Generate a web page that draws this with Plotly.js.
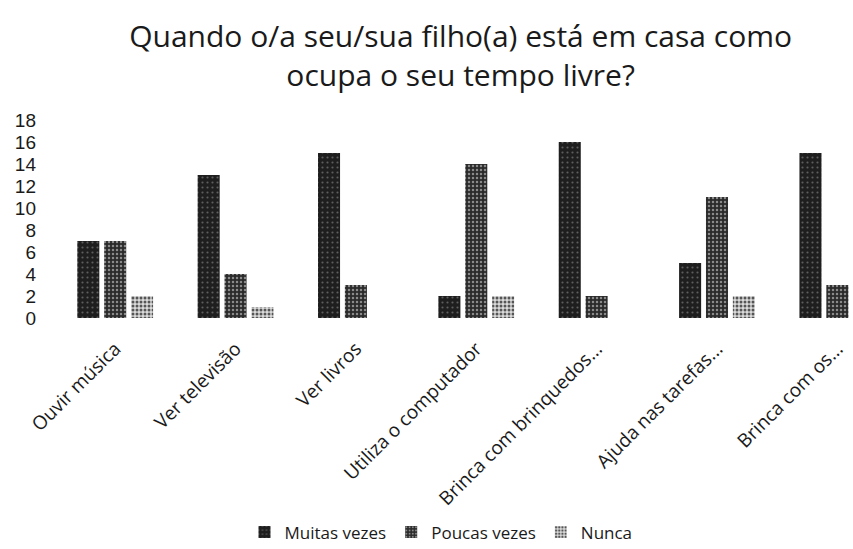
<!DOCTYPE html>
<html>
<head>
<meta charset="utf-8">
<script src="https://cdn.plot.ly/plotly-3.0.1.min.js"></script>
<style>html,body{margin:0;padding:0;background:#fff;}#chart{width:853px;height:549px;}</style>
</head>
<body>
<div id="chart"></div>
<script>
const categories = ["Ouvir música", "Ver televisão", "Ver livros", "Utiliza o computador", "Brinca com brinquedos...", "Ajuda nas tarefas...", "Brinca com os..."];
const muitasVezes = [7, 13, 15, 2, 16, 5, 15];
const poucasVezes = [7, 4, 3, 14, 2, 11, 3];
const nunca = [2, 1, 0, 2, 0, 2, 0];
const seriesNames = ["Muitas vezes", "Poucas vezes", "Nunca"];
const yTicks = [0, 2, 4, 6, 8, 10, 12, 14, 16, 18];

const traces = [
  {type: 'bar', name: seriesNames[0], x: categories, y: muitasVezes,
   marker: {color: '#232323', pattern: {shape: '.', fgcolor: '#5e5e5e', bgcolor: '#1e1e1e', size: 5, solidity: 0.15}}},
  {type: 'bar', name: seriesNames[1], x: categories, y: poucasVezes,
   marker: {color: '#3a3a3a', pattern: {shape: '.', fgcolor: '#8a8a8a', bgcolor: '#2a2a2a', size: 4, solidity: 0.3}}},
  {type: 'bar', name: seriesNames[2], x: categories, y: nunca,
   marker: {color: '#b5b5b5', pattern: {shape: '.', fgcolor: '#555555', bgcolor: '#dadada', size: 4, solidity: 0.45}}}
];

const layout = {
  width: 853, height: 549,
  paper_bgcolor: '#fff', plot_bgcolor: '#fff',
  margin: {l: 55, r: 0, t: 120, b: 231},
  title: {text: 'Quando o/a seu/sua filho(a) está em casa como<br>ocupa o seu tempo livre?',
          font: {family: 'Open Sans, Noto Sans, sans-serif', size: 30, color: '#1a1a1a'},
          x: 0.54, xanchor: 'center', y: 0.915, yanchor: 'top'},
  barmode: 'group', bargap: 0.33, bargroupgap: 0.18,
  xaxis: {range: [-0.5, 6.13], tickangle: -45, showgrid: false, showline: false, zeroline: false, ticks: '',
          ticklabelstandoff: 15, ticklabelshift: 0,
          tickfont: {family: 'Open Sans, sans-serif', size: 19, color: '#1a1a1a'}},
  yaxis: {range: [0, 18], tickvals: yTicks, showgrid: false, showline: false, zeroline: false, ticks: '',
          ticklabelstandoff: 18,
          tickfont: {family: 'Liberation Sans, sans-serif', size: 19, color: '#1a1a1a'}},
  showlegend: true,
  legend: {orientation: 'h', x: 0.517, xref: 'container', xanchor: 'center', y: 0.03, yref: 'container', yanchor: 'middle',
           font: {family: 'Open Sans, sans-serif', size: 17, color: '#1a1a1a'}, itemwidth: 30}
};
Plotly.newPlot('chart', traces, layout, {displayModeBar: false, staticPlot: true});
</script>
</body>
</html>
